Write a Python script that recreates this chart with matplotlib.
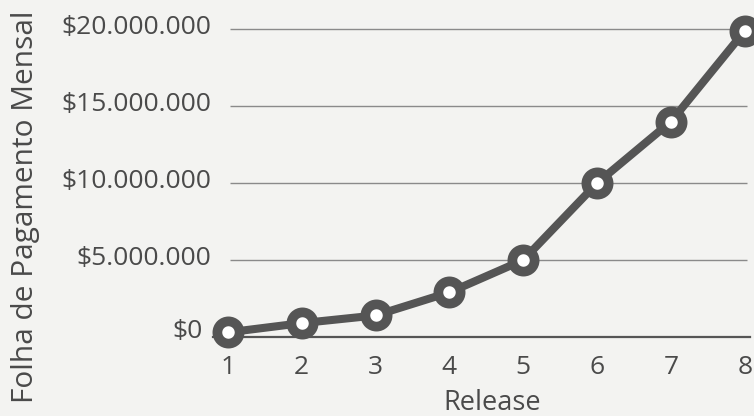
import matplotlib.pyplot as plt
from matplotlib.ticker import FuncFormatter
from matplotlib.transforms import ScaledTranslation

# Folha de pagamento mensal por release (valores em milhões de $)
releases = [1, 2, 3, 4, 5, 6, 7, 8]
folha_milhoes = [0.3, 0.9, 1.4, 2.9, 5.0, 10.0, 14.0, 19.9]
y_ticks = [0, 5_000_000, 10_000_000, 15_000_000, 20_000_000]

folha = [v * 1_000_000 for v in folha_milhoes]

bg = '#f3f3f1'
ink = '#4a4a4a'
plt.rcParams['font.family'] = ['Open Sans', 'DejaVu Sans']

fig = plt.figure(figsize=(7.54, 4.16), dpi=100, facecolor=bg)
ax = fig.add_axes([213 / 754, 79 / 416, 537 / 754, 317 / 416], facecolor=bg)

# grade horizontal (sem a linha do zero, que é o eixo)
ax.hlines(y_ticks[1:], 1.03, 8.03, color='#8a8a8a', lw=1.0, zorder=1)

ax.plot(releases, folha, color='#555555', lw=5.8, marker='o', ms=16,
        mfc='white', mec='#555555', mew=7, zorder=3, clip_on=False)

ax.set_xlim(0.8, 8.07)
ax.set_ylim(0, 20_600_000)
ax.set_xticks(releases)
ax.set_yticks(y_ticks)
ax.yaxis.set_major_formatter(FuncFormatter(lambda v, p: '$' + f'{int(v):,}'.replace(',', '.')))

for pos in ('top', 'left', 'right'):
    ax.spines[pos].set_visible(False)
ax.spines['bottom'].set_color('#555555')
ax.spines['bottom'].set_linewidth(1.6)
ax.spines['bottom'].set_zorder(2)

ax.tick_params(axis='both', length=0, labelsize=19, colors=ink)
ax.tick_params(axis='x', pad=13)
ax.tick_params(axis='y', pad=1)

# rótulos do eixo y ficam um pouco acima das linhas de grade; o $0 fica afastado do marcador
for i, lbl in enumerate(ax.get_yticklabels()):
    dx = -9 / 100 if i == 0 else 0
    dy = 8 / 100 if i == 0 else 5 / 100
    lbl.set_transform(lbl.get_transform() + ScaledTranslation(dx, dy, fig.dpi_scale_trans))

ax.set_xlabel('Release', fontsize=19.5, color=ink, va='center')
ax.xaxis.set_label_coords(0.52, -0.208)
ax.set_ylabel('Folha de Pagamento Mensal', fontsize=21.5, color=ink, va='center')
ax.yaxis.set_label_coords(-0.35, 0.41)

fig.savefig('out.png', dpi=100, facecolor=bg)
